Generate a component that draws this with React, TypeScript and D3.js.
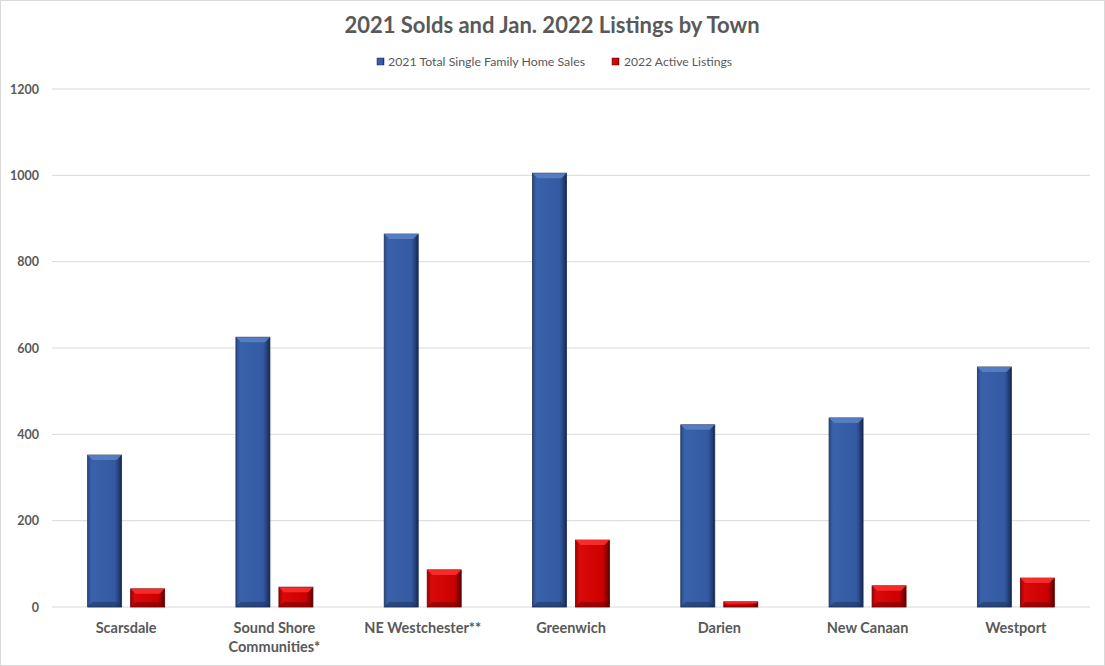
import React from "react";
import * as d3 from "d3";

const towns = ["Scarsdale", "Sound Shore\nCommunities*", "NE Westchester**", "Greenwich", "Darien", "New Canaan", "Westport"];
const sales2021 = [352, 625, 864, 1005, 422, 438, 556];
const listings2022 = [42, 46, 86, 155, 12, 49, 67];
const seriesNames = ["2021 Total Single Family Home Sales", "2022 Active Listings"];
const yTicks = [0, 200, 400, 600, 800, 1000, 1200];

const W = 1105, H = 666;
const margin = { left: 52, right: 15, top: 89, bottom: 59 };

export default function App() {
  const x = d3.scaleBand<string>().domain(towns).range([margin.left, W - margin.right]).paddingInner(0).paddingOuter(0);
  const y = d3.scaleLinear().domain([0, 1200]).range([H - margin.bottom, margin.top]);
  const barW = 34, gap = 9;
  const font = "Lato, 'Noto Sans', sans-serif";
  const txt = "#595959";

  const bar = (cx: number, v: number, kind: "b" | "r", key: string) => {
    const y0 = y(0), y1 = y(v);
    const h = y0 - y1;
    const bev = Math.min(5, h / 3);
    const light = kind === "b" ? "#5b82c7" : "#ff3030";
    const dark = kind === "b" ? "#1a2f58" : "#6e0000";
    return (
      <g key={key}>
        <rect x={cx} y={y1} width={barW} height={h} fill={`url(#g${kind})`} stroke={dark} strokeWidth={0.8} />
        <polygon points={`${cx},${y1} ${cx + barW},${y1} ${cx + barW - bev},${y1 + bev} ${cx + bev},${y1 + bev}`} fill={light} opacity={0.85} />
        <polygon points={`${cx},${y0} ${cx + barW},${y0} ${cx + barW - bev},${y0 - bev} ${cx + bev},${y0 - bev}`} fill={dark} opacity={0.5} />
      </g>
    );
  };

  return (
    <svg width={W} height={H} style={{ position: "absolute", left: 0, top: 0 }}>
      <defs>
        <linearGradient id="gb" x1="0" x2="1" y1="0" y2="0">
          <stop offset="0" stopColor="#2a4a8a" />
          <stop offset="0.12" stopColor="#3a62aa" />
          <stop offset="0.8" stopColor="#335aa2" />
          <stop offset="0.92" stopColor="#243f78" />
          <stop offset="1" stopColor="#14254a" />
        </linearGradient>
        <linearGradient id="gr" x1="0" x2="1" y1="0" y2="0">
          <stop offset="0" stopColor="#a00000" />
          <stop offset="0.12" stopColor="#d80a0a" />
          <stop offset="0.8" stopColor="#cc0000" />
          <stop offset="0.92" stopColor="#8a0000" />
          <stop offset="1" stopColor="#500000" />
        </linearGradient>
      </defs>
      <rect x={0.5} y={0.5} width={W - 1} height={H - 1} fill="#fff" stroke="#d9d9d9" />
      <text x={552} y={33} textAnchor="middle" fontFamily={font} fontSize={22} fontWeight="bold" fill={txt}>
        2021 Solds and Jan. 2022 Listings by Town
      </text>
      {/* legend */}
      <g fontFamily={font} fontSize={12} fill={txt}>
        <rect x={377} y={58} width={7} height={7} fill="url(#gb)" stroke="#1a2f58" strokeWidth={0.5} />
        <text x={388} y={66} textLength={197} lengthAdjust="spacingAndGlyphs">{seriesNames[0]}</text>
        <rect x={612} y={58} width={7} height={7} fill="url(#gr)" stroke="#6e0000" strokeWidth={0.5} />
        <text x={624} y={66} textLength={108} lengthAdjust="spacingAndGlyphs">{seriesNames[1]}</text>
      </g>
      {yTicks.map((t) => (
        <g key={t}>
          <line x1={margin.left} x2={W - margin.right} y1={y(t)} y2={y(t)} stroke="#d9d9d9" strokeWidth={1} />
          <text x={39} y={y(t) + 4.5} textAnchor="end" fontFamily={font} fontSize={12.5} fontWeight="bold" fill={txt}>{t}</text>
        </g>
      ))}
      {towns.map((t, i) => {
        const c = (x(t) as number) + x.bandwidth() / 2;
        return (
          <g key={t}>
            {bar(c - gap / 2 - barW, sales2021[i], "b", "b" + i)}
            {bar(c + gap / 2, listings2022[i], "r", "r" + i)}
            <text textAnchor="middle" fontFamily={font} fontSize={14.5} fontWeight="bold" fill={txt}>
              {t.split("\n").map((line, j) => (
                <tspan key={j} x={c} y={633 + j * 19}>{line}</tspan>
              ))}
            </text>
          </g>
        );
      })}
    </svg>
  );
}
